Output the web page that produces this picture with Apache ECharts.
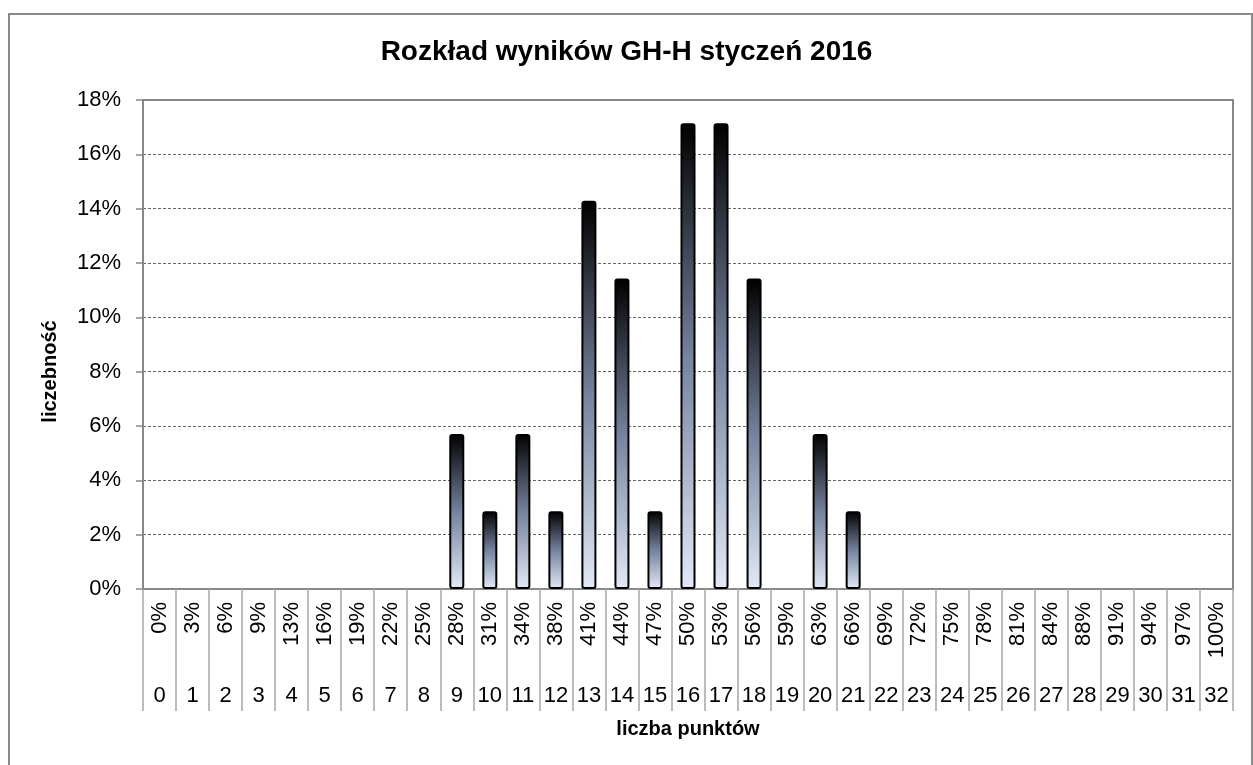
<!DOCTYPE html>
<html>
<head>
  <meta charset="utf-8">
  <title>Rozkład wyników GH-H styczeń 2016</title>
  <script src="https://cdn.jsdelivr.net/npm/echarts@6/dist/echarts.min.js"></script>
  <style>
    html, body { margin: 0; padding: 0; background: #fff; }
    #chart { width: 1253px; height: 765px; }
  </style>
</head>
<body>
<div id="chart"></div>
<script>
  /******************/
  //region    //data

  // liczba punktów (0..32)
  let points = ['0', '1', '2', '3', '4', '5', '6', '7', '8', '9', '10', '11', '12', '13', '14', '15', '16',
    '17', '18', '19', '20', '21', '22', '23', '24', '25', '26', '27', '28', '29', '30', '31', '32'];

  // wynik procentowy dla każdej liczby punktów
  let percentLabels = ['0%', '3%', '6%', '9%', '13%', '16%', '19%', '22%', '25%', '28%', '31%', '34%',
    '38%', '41%', '44%', '47%', '50%', '53%', '56%', '59%', '63%', '66%', '69%', '72%', '75%', '78%',
    '81%', '84%', '88%', '91%', '94%', '97%', '100%'];

  // liczebność w %
  let counts = [0, 0, 0, 0, 0, 0, 0, 0, 0, 5.71, 2.86, 5.71, 2.86, 14.29, 11.43, 2.86, 17.14,
    17.14, 11.43, 0, 5.71, 2.86, 0, 0, 0, 0, 0, 0, 0, 0, 0, 0, 0];

  let yTicks = {min: 0, max: 18, interval: 2};

  //endregion

  /******************/
  //region    //chart

  let font = '"Liberation Sans", Arial, sans-serif';
  let chart = echarts.init(document.getElementById('chart'));

  function deployChart() {
    let option = {
      animation: false,
      textStyle: {fontFamily: font},
      title: {
        text: 'Rozkład wyników GH-H styczeń 2016',
        left: 'center',
        top: 33,
        textStyle: {fontSize: 28, fontWeight: 'bold', color: '#000', fontFamily: font},
      },
      graphic: [{
        type: 'rect',
        shape: {x: 9, y: 14, width: 1243, height: 770},
        style: {fill: 'none', stroke: '#8a8a8a', lineWidth: 2},
        silent: true,
      }],
      grid: {
        left: 143, right: 20, top: 100, bottom: 176,
        show: true,
        borderColor: '#888',
        borderWidth: 2,
      },
      xAxis: [
        {
          type: 'category',
          data: percentLabels,
          position: 'bottom',
          axisLine: {lineStyle: {color: '#888', width: 2}},
          axisTick: {show: true, length: 122, interval: 0, lineStyle: {color: '#a6a6a6', width: 1.5}},
          axisLabel: {
            interval: 0, rotate: 90, margin: 13,
            fontSize: 22, color: '#000', fontFamily: font,
          },
        },
        {
          type: 'category',
          data: points,
          position: 'bottom',
          offset: 88,
          name: 'liczba punktów',
          nameLocation: 'middle',
          nameGap: 42,
          nameTextStyle: {fontSize: 20, fontWeight: 'bold', color: '#000', fontFamily: font},
          axisLine: {show: false},
          axisTick: {show: false},
          axisLabel: {interval: 0, margin: 8, fontSize: 22, color: '#000', fontFamily: font},
        },
      ],
      yAxis: {
        type: 'value',
        min: yTicks.min,
        max: yTicks.max,
        interval: yTicks.interval,
        name: 'liczebność',
        nameLocation: 'middle',
        nameGap: 83,
        nameTextStyle: {
          fontSize: 20, fontWeight: 'bold', color: '#000', fontFamily: font,
          padding: [0, 54, 0, 0],
        },
        axisLine: {show: true, lineStyle: {color: '#888', width: 2}},
        axisTick: {show: true, length: 7, lineStyle: {color: '#888', width: 1.5}},
        axisLabel: {
          margin: 22, fontSize: 22, color: '#000', fontFamily: font,
          formatter(v) {
            return v + '%';
          },
        },
        splitLine: {
          show: true,
          showMinLine: false,
          showMaxLine: false,
          lineStyle: {color: '#666', type: [3, 2], width: 1},
        },
      },
      series: [
        {
          type: 'bar',
          xAxisIndex: 0,
          barWidth: 15,
          data: counts.map(v => v === 0 ? '-' : v),
          itemStyle: {
            borderColor: '#000',
            borderWidth: 2,
            borderRadius: 2,
            color: new echarts.graphic.LinearGradient(0, 0, 0, 1, [
              {offset: 0, color: '#000000'},
              {offset: 0.5, color: '#75829e'},
              {offset: 1, color: '#e2eaf8'},
            ]),
          },
        },
      ],
    };

    chart.setOption(option);
  }

  deployChart();

  //endregion
</script>
</body>
</html>
